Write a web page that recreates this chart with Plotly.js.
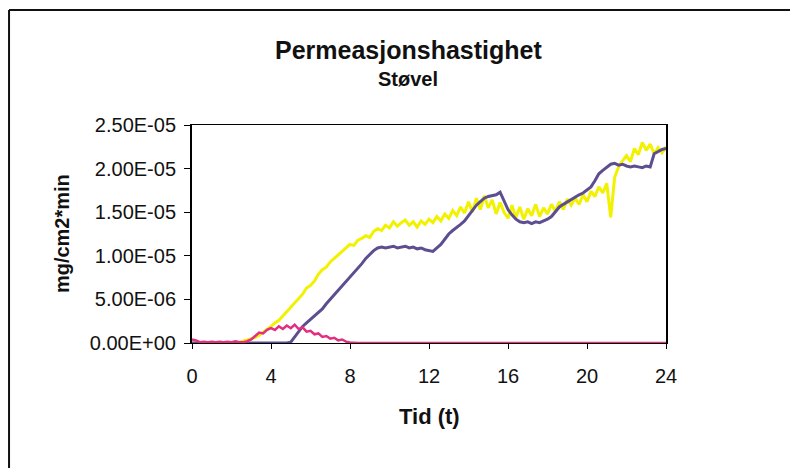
<!DOCTYPE html>
<html>
<head>
<meta charset="utf-8">
<script src="https://cdn.plot.ly/plotly-3.0.1.min.js"></script>
<style>
  html, body { margin: 0; padding: 0; background: #fff; }
  #chart { width: 790px; height: 468px; }
</style>
</head>
<body>
<div id="chart"></div>
<script>
// Sampling step of the readings (hours)
const stepHours = 0.2;

// Values, in units of 1e-6 mg/cm2*min, one every 0.2 h from 0 to 24 h
const gul_e6 = [
  0, 0, 0, 0, 0, 0, 0, 0, 0, 0, 0, 0.05, 0.1,
  0.2, 0.35, 0.5, 0.65, 0.9, 1.2, 1.5, 1.9, 2.3, 2.6, 3.1, 3.6, 4.1,
  4.5, 5.0, 5.6, 6.3, 6.6, 7.1, 7.9, 8.4, 8.7, 9.3, 9.7, 10.2, 10.5,
  10.9, 11.3, 11.2, 11.8, 12.0, 12.3, 12.1, 12.8, 13.1, 12.9, 13.5, 13.2, 13.9,
  13.4, 13.8, 14.1, 13.5, 13.9, 13.3, 14.0, 13.6, 14.2, 13.8, 14.5, 14.0, 14.8,
  14.3, 15.2, 14.6, 15.6, 14.9, 16.2, 15.0, 16.6, 15.3, 16.9, 15.5, 16.4, 14.8,
  16.1, 15.0, 14.3, 15.8, 14.4, 15.6, 14.2, 15.4, 14.6, 15.9, 14.5, 15.5, 14.8,
  15.9, 15.1, 16.2, 15.3, 16.5, 15.8, 16.6, 15.9, 17.0, 16.2, 17.4, 16.8, 17.9,
  17.2, 18.3, 14.4, 19.0, 20.2, 20.9, 21.5, 20.8, 22.3, 21.6, 23.0, 22.1, 22.8,
  21.7, 22.4, 21.8, 22.5
];

const lilla_e6 = [
  0, 0, 0, 0, 0, 0, 0, 0, 0, 0, 0, 0, 0,
  0, 0, 0, 0, 0, 0, 0, 0, 0, 0, 0, 0, 0.1,
  0.7, 1.4, 1.9, 2.3, 2.7, 3.1, 3.5, 3.9, 4.5, 5.0, 5.5, 6.0, 6.5,
  7.0, 7.5, 8.0, 8.6, 9.1, 9.7, 10.2, 10.6, 10.9, 11.0, 10.9, 11.0, 11.1,
  10.9, 11.0, 11.1, 10.9, 11.0, 10.8, 10.9, 10.7, 10.6, 10.5, 10.9, 11.3, 11.9,
  12.5, 12.9, 13.2, 13.6, 14.0, 14.6, 15.3, 15.8, 16.2, 16.6, 16.8, 16.9, 17.0,
  17.3, 16.2, 15.3, 14.7, 14.2, 13.9, 13.8, 13.9, 13.7, 13.9, 13.8, 14.0, 14.2,
  14.5, 15.1, 15.6, 15.9, 16.2, 16.5, 16.8, 17.0, 17.2, 17.5, 17.9, 18.6, 19.4,
  19.8, 20.1, 20.5, 20.6, 20.4, 20.5, 20.3, 20.2, 20.3, 20.2, 20.1, 20.3, 20.2,
  21.7, 22.0, 22.2, 22.3
];

const rosa_e6 = [
  0.4, 0.3, 0.1, 0.15, 0.1, 0.15, 0.1, 0.15, 0.1, 0.15, 0.1, 0.2, 0.1,
  0.1, 0.2, 0.4, 0.8, 1.2, 1.1, 1.5, 1.7, 1.5, 1.9, 1.6, 2.0, 1.7,
  2.1, 1.6, 1.8, 1.3, 1.4, 1.0, 1.1, 0.7, 0.8, 0.5, 0.6, 0.3, 0.4,
  0.15, 0.05, 0, 0, 0, 0, 0, 0, 0, 0, 0, 0, 0,
  0, 0, 0, 0, 0, 0, 0, 0, 0, 0, 0, 0, 0,
  0, 0, 0, 0, 0, 0, 0, 0, 0, 0, 0, 0, 0,
  0, 0, 0, 0, 0, 0, 0, 0, 0, 0, 0, 0, 0,
  0, 0, 0, 0, 0, 0, 0, 0, 0, 0, 0, 0, 0,
  0, 0, 0, 0, 0, 0, 0, 0, 0, 0, 0, 0, 0,
  0, 0, 0, 0
];

const xTicks = [0, 4, 8, 12, 16, 20, 24];
const yTicks = [0, 5e-6, 1e-5, 1.5e-5, 2e-5, 2.5e-5];
const yTickLabels = ['0.00E+00', '5.00E-06', '1.00E-05', '1.50E-05', '2.00E-05', '2.50E-05'];

const tid = gul_e6.map((_, i) => +(i * stepHours).toFixed(2));
const toUnit = arr => arr.map(v => v * 1e-6);

const FONT = 'Liberation Sans, Arial, sans-serif';

const traces = [
  { x: tid, y: toUnit(gul_e6), mode: 'lines', line: { color: '#f2f200', width: 3 }, name: 'gul' },
  { x: tid, y: toUnit(lilla_e6), mode: 'lines', line: { color: '#5d4e90', width: 3 }, name: 'lilla' },
  { x: tid, y: toUnit(rosa_e6), mode: 'lines', line: { color: '#e0307f', width: 2.5 }, name: 'rosa' }
];

const layout = {
  width: 790, height: 468,
  margin: { l: 192, r: 124, t: 125, b: 125 },
  paper_bgcolor: '#ffffff', plot_bgcolor: '#ffffff',
  showlegend: false,
  font: { family: FONT, color: '#111' },
  xaxis: {
    range: [0, 24], tickvals: xTicks, ticktext: xTicks.map(String),
    ticks: 'outside', ticklen: 5, tickcolor: '#000', tickwidth: 1,
    ticklabelstandoff: 10,
    showline: true, linecolor: '#000', linewidth: 1, mirror: true,
    showgrid: false, zeroline: false,
    tickfont: { family: FONT, size: 20, color: '#111' }
  },
  yaxis: {
    range: [0, 2.5e-5], tickvals: yTicks, ticktext: yTickLabels,
    ticks: 'outside', ticklen: 6, tickcolor: '#000', tickwidth: 1,
    ticklabelstandoff: 4,
    showline: true, linecolor: '#000', linewidth: 2, mirror: true,
    showgrid: false, zeroline: false,
    tickfont: { family: FONT, size: 20, color: '#111' }
  },
  annotations: [
    { text: '<b>Permeasjonshastighet</b>', xref: 'paper', yref: 'paper', x: 0.456, y: 1.344,
      xanchor: 'center', yanchor: 'middle', showarrow: false, font: { family: FONT, size: 25, color: '#111' } },
    { text: '<b>Støvel</b>', xref: 'paper', yref: 'paper', x: 0.456, y: 1.21,
      xanchor: 'center', yanchor: 'middle', showarrow: false, font: { family: FONT, size: 20, color: '#111' } },
    { text: '<b>Tid (t)</b>', xref: 'paper', yref: 'paper', x: 0.502, y: -0.335,
      xanchor: 'center', yanchor: 'middle', showarrow: false, font: { family: FONT, size: 22, color: '#111' } },
    { text: '<b>mg/cm2*min</b>', xref: 'paper', yref: 'paper', x: -0.274, y: 0.5, textangle: -90,
      xanchor: 'center', yanchor: 'middle', showarrow: false, font: { family: FONT, size: 20, color: '#111' } }
  ],
  shapes: [
    { type: 'line', xref: 'paper', yref: 'paper', x0: -0.386, x1: -0.386, y0: -0.6, y1: 1.528,
      line: { color: '#111', width: 2 } },
    { type: 'line', xref: 'paper', yref: 'paper', x0: -0.386, x1: 1.3, y0: 1.528, y1: 1.528,
      line: { color: '#111', width: 2 } }
  ]
};

Plotly.newPlot('chart', traces, layout, { staticPlot: true, displayModeBar: false });
</script>
</body>
</html>
